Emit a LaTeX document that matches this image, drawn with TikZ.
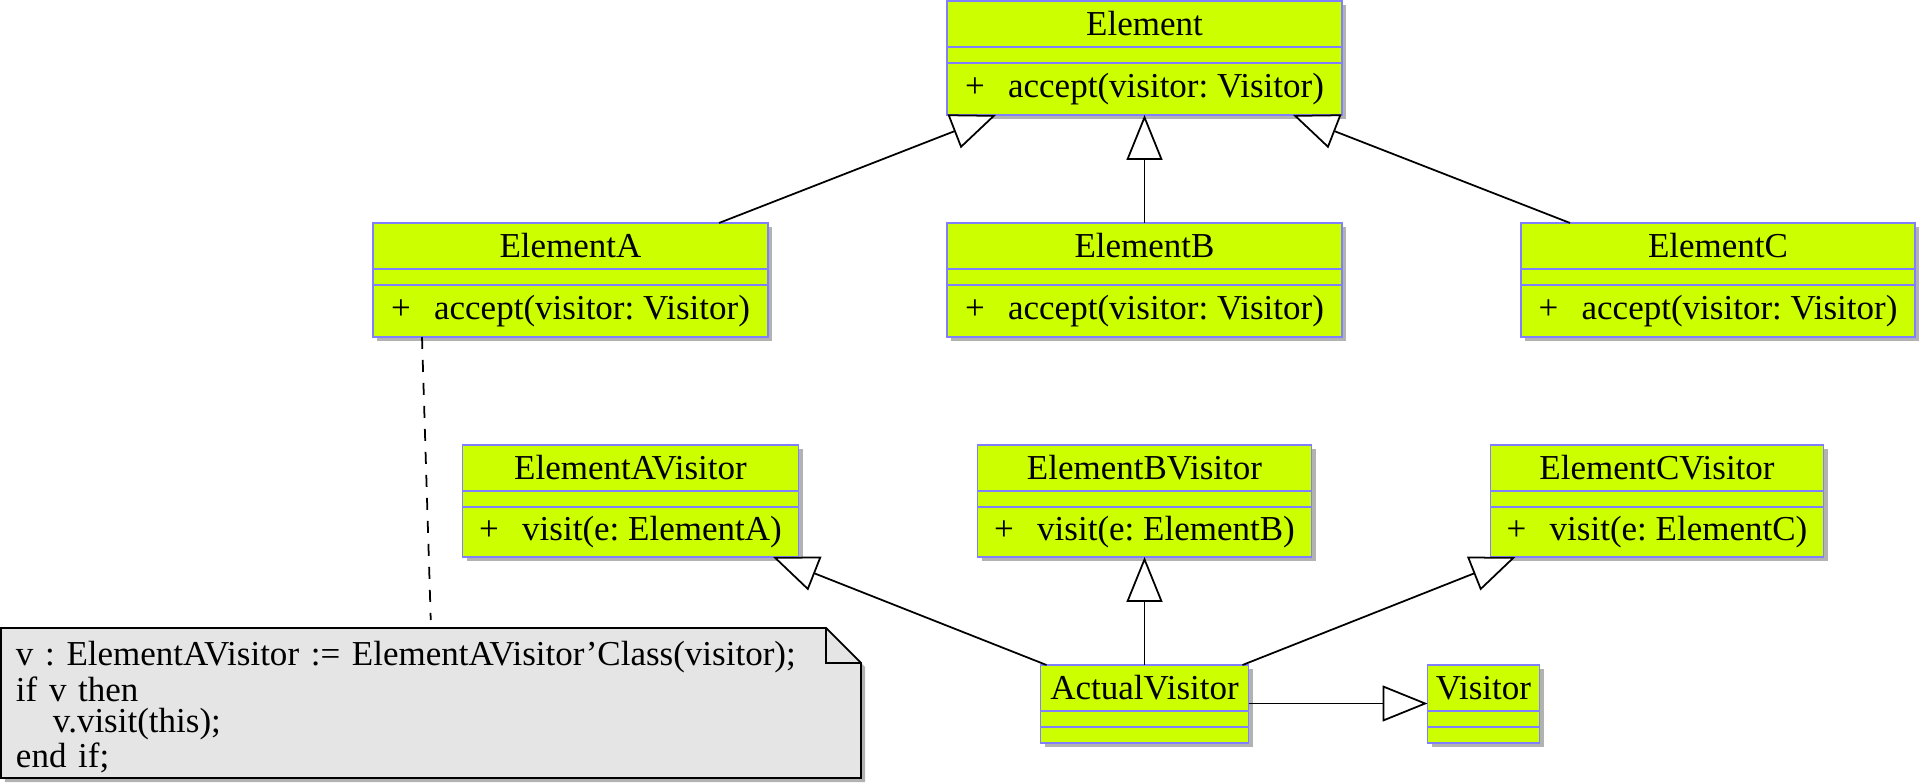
\documentclass[tikz,border=0pt]{standalone}
\usepackage{fontspec}
\setmainfont{Liberation Serif}
\frenchspacing
\setlength{\lineskiplimit}{-5pt}
\usetikzlibrary{positioning, shadows, arrows.meta, backgrounds}
\definecolor{umlFondo}{RGB}{204,255,0}
\definecolor{umlBorde}{RGB}{128,128,255}
\definecolor{notaFondo}{RGB}{229,229,229}
\newcommand{\metodo}[1]{\makebox[4.3mm][l]{+}#1}
\tikzstyle{ClaseNombre}=[rectangle, draw=umlBorde, fill=umlFondo, line width=0.5pt, inner sep=0pt, outer sep=0pt, minimum height=4.6mm, font=\fontsize{9.96pt}{9.96pt}\selectfont, drop shadow={shadow xshift=0.4mm, shadow yshift=-0.4mm, fill=black!30, opacity=1}]
\tikzstyle{ClaseAtrib}=[ClaseNombre, minimum height=1.6mm]
\tikzstyle{ClaseOps}=[ClaseNombre, minimum height=5.2mm]
\tikzstyle{Nota}=[rectangle, inner xsep=1.5mm, inner ysep=0pt, outer sep=0pt, minimum height=15mm, text width=83mm, align=left, font=\fontsize{9.96pt}{8.8pt}\selectfont]
\tikzstyle{NotaBorde}=[draw=black, fill=notaFondo, line width=0.5pt, drop shadow={shadow xshift=0.4mm, shadow yshift=-0.4mm, fill=black!30, opacity=1}]
\tikzstyle{Herencia}=[-{Triangle[length=4.5mm, width=3.6mm, fill=white]}, line width=0.5pt]
\tikzstyle{Enlace}=[dash pattern=on 1.2mm off 1.1mm, line width=0.5pt, shorten >=0.8mm]

\begin{document}
\begin{tikzpicture}
			\useasboundingbox (0,0) rectangle (19.2,-7.83);

			%Nodos
			\node[ClaseNombre, minimum width=39.5mm, anchor=north]	(element)		at (11.445,-0.01)		{Element};
			\node[ClaseAtrib, minimum width=39.5mm]	(element_atr)	[below=0cm of element]		{};
			\node[ClaseOps, minimum width=39.5mm]	(element_ops)	[below=0cm of element_atr]	{\metodo{accept(visitor: Visitor)}};

			\node[ClaseNombre, minimum width=39.5mm]	(elementB)		[below=10.8mm of element_ops]	{ElementB};
			\node[ClaseAtrib, minimum width=39.5mm]	(elementB_atr)	[below=0cm of elementB]		{};
			\node[ClaseOps, minimum width=39.5mm]	(elementB_ops)	[below=0cm of elementB_atr]	{\metodo{accept(visitor: Visitor)}};

			\node[ClaseNombre, minimum width=39.5mm]	(elementA)		[left=17.9mm of elementB]		{ElementA};
			\node[ClaseAtrib, minimum width=39.5mm]	(elementA_atr)	[below=0cm of elementA]		{};
			\node[ClaseOps, minimum width=39.5mm]	(elementA_ops)	[below=0cm of elementA_atr]	{\metodo{accept(visitor: Visitor)}};

			\node[ClaseNombre, minimum width=39.4mm]	(elementC)		[right=17.9mm of elementB]	{ElementC};
			\node[ClaseAtrib, minimum width=39.4mm]	(elementC_atr)	[below=0cm of elementC]		{};
			\node[ClaseOps, minimum width=39.4mm]	(elementC_ops)	[below=0cm of elementC_atr]	{\metodo{accept(visitor: Visitor)}};

			\node[ClaseNombre, minimum width=33.4mm]	(elementBVisitor)		[below=10.8mm of elementB_ops]	{ElementBVisitor};
			\node[ClaseAtrib, minimum width=33.4mm]	(elementBVisitor_atr)	[below=0cm of elementBVisitor]		{};
			\node[ClaseOps, minimum width=33.4mm, minimum height=5mm]	(elementBVisitor_ops)	[below=0cm of elementBVisitor_atr]	{\metodo{visit(e: ElementB)}};

			\node[ClaseNombre, minimum width=33.6mm]	(elementAVisitor)		[left=17.9mm of elementBVisitor]	{ElementAVisitor};
			\node[ClaseAtrib, minimum width=33.6mm]	(elementAVisitor_atr)	[below=0cm of elementAVisitor]		{};
			\node[ClaseOps, minimum width=33.6mm, minimum height=5mm]	(elementAVisitor_ops)	[below=0cm of elementAVisitor_atr]	{\metodo{visit(e: ElementA)}};

			\node[ClaseNombre, minimum width=33.3mm]	(elementCVisitor)		[right=17.9mm of elementBVisitor]	{ElementCVisitor};
			\node[ClaseAtrib, minimum width=33.3mm]	(elementCVisitor_atr)	[below=0cm of elementCVisitor]		{};
			\node[ClaseOps, minimum width=33.3mm, minimum height=5mm]	(elementCVisitor_ops)	[below=0cm of elementCVisitor_atr]	{\metodo{visit(e: ElementC)}};

			\node[ClaseNombre, minimum width=20.8mm]	(actualVisitor)		[below=10.8mm of elementBVisitor_ops]	{ActualVisitor};
			\node[ClaseAtrib, minimum width=20.8mm]	(actualVisitor_atr)	[below=0cm of actualVisitor]		{};
			\node[ClaseAtrib, minimum width=20.8mm]	(actualVisitor_ops)	[below=0cm of actualVisitor_atr]	{};

			\node[ClaseNombre, minimum width=11.2mm]	(visitor)		[right=17.9mm of actualVisitor]	{Visitor};
			\node[ClaseAtrib, minimum width=11.2mm]	(visitor_atr)	[below=0cm of visitor]		{};
			\node[ClaseAtrib, minimum width=11.2mm]	(visitor_ops)	[below=0cm of visitor_atr]	{};

			\node[Nota, anchor=north west]	(nota)	at (0.01,-6.28)	{\rule{0pt}{3.3mm}v : ElementAVisitor := ElementAVisitor'Class(visitor);\\ if v then\\ \hspace*{3.7mm}v.visit(this);\\ end if;};
			\begin{scope}[on background layer]
				\draw[NotaBorde] (nota.south west) -- (nota.north west) -- ([xshift=-3.5mm]nota.north east) -- ([yshift=-3.5mm]nota.north east) -- (nota.south east) -- cycle;
			\end{scope}
			\draw[line width=0.5pt] ([xshift=-3.5mm]nota.north east) |- ([yshift=-3.5mm]nota.north east);

			%Lineas
			\draw[Herencia] ([xshift=-4.9mm]elementA.north east) -- ([xshift=4.9mm]element_ops.south west);
			\draw[Herencia] (elementB) -- (element_ops);
			\draw[Herencia] ([xshift=4.9mm]elementC.north west) -- ([xshift=-4.9mm]element_ops.south east);

			\draw[Herencia] ([xshift=0.6mm]actualVisitor.north west) -- ([xshift=-2.55mm]elementAVisitor_ops.south east);
			\draw[Herencia] (actualVisitor) -- (elementBVisitor_ops);
			\draw[Herencia] ([xshift=-0.6mm]actualVisitor.north east) -- ([xshift=2.5mm]elementCVisitor_ops.south west);
			\draw[Herencia] ([yshift=-1.55mm]actualVisitor.east) -- ([yshift=-1.55mm]visitor.west);

			\draw[Enlace] ([xshift=4.9mm]elementA_ops.south west) -- (nota.north);

		\end{tikzpicture}
\end{document}
